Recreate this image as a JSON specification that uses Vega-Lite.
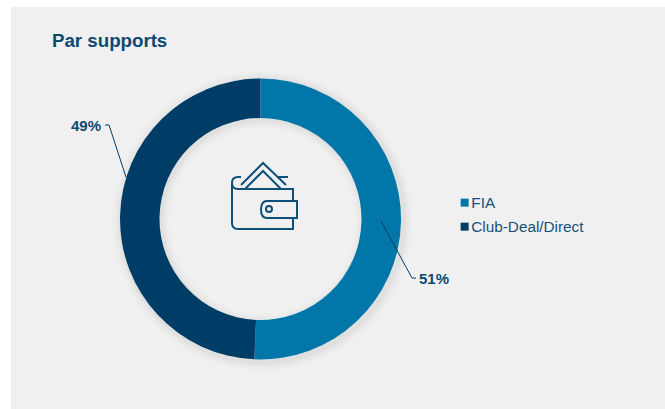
{"$schema":"https://vega.github.io/schema/vega-lite/v6.json","width":654,"height":402,"autosize":"none","padding":{"left":11,"top":7,"right":0,"bottom":0},"background":"#ffffff","config":{"view":{"fill":"#f0f0f0","stroke":null},"font":"Liberation Sans"},"title":{"text":"Par supports","anchor":"start","frame":"group","dx":41,"offset":-59,"baseline":"alphabetic","font":"Liberation Sans","fontSize":18.7,"fontWeight":"bold","color":"#0c4a72"},"data":{"values":[{"support":"FIA","share":50.7,"order":1,"label":"51%"},{"support":"Club-Deal/Direct","share":49.3,"order":2,"label":"49%"}]},"layer":[{"mark":{"type":"arc","radius":150,"radius2":93,"color":"#000000","opacity":0.012},"encoding":{"theta":{"field":"share","type":"quantitative","stack":true},"order":{"field":"order"},"x":{"value":251.5},"y":{"value":214}}},{"mark":{"type":"arc","radius":147,"radius2":96,"color":"#000000","opacity":0.02},"encoding":{"theta":{"field":"share","type":"quantitative","stack":true},"order":{"field":"order"},"x":{"value":251.5},"y":{"value":214}}},{"mark":{"type":"arc","radius":144,"radius2":99,"color":"#000000","opacity":0.03},"encoding":{"theta":{"field":"share","type":"quantitative","stack":true},"order":{"field":"order"},"x":{"value":251.5},"y":{"value":214}}},{"mark":{"type":"arc","radius":140.5,"radius2":101},"encoding":{"theta":{"field":"share","type":"quantitative","stack":true},"order":{"field":"order"},"x":{"value":249.5},"y":{"value":212},"color":{"field":"support","type":"nominal","scale":{"domain":["FIA","Club-Deal/Direct"],"range":["#0077a8","#003d66"]},"legend":{"title":null,"orient":"none","legendX":446,"legendY":188,"symbolType":"square","symbolSize":64,"symbolStrokeWidth":0,"labelFont":"Liberation Sans","labelFontSize":15.3,"labelColor":"#17507a","labelOffset":-1,"rowPadding":8,"labelLimit":200}}}},{"transform":[{"filter":"datum.support==='FIA'"}],"mark":{"type":"point","filled":false,"stroke":"#003d66","strokeWidth":1,"opacity":1,"size":4,"shape":"M-17,-28 L14,29 L18,29"},"encoding":{"x":{"value":387},"y":{"value":242}}},{"transform":[{"filter":"datum.support!=='FIA'"}],"mark":{"type":"point","filled":false,"stroke":"#003d66","strokeWidth":1,"opacity":1,"size":4,"shape":"M-11,-26 L-7,-26 L10,26"},"encoding":{"x":{"value":105},"y":{"value":144}}},{"transform":[{"filter":"datum.support==='FIA'"}],"mark":{"type":"text","font":"Liberation Sans","fontSize":15,"fontWeight":"bold","color":"#0c4a72","align":"left","baseline":"middle"},"encoding":{"text":{"field":"label"},"x":{"value":408},"y":{"value":272}}},{"transform":[{"filter":"datum.support!=='FIA'"}],"mark":{"type":"text","font":"Liberation Sans","fontSize":15,"fontWeight":"bold","color":"#0c4a72","align":"right","baseline":"middle"},"encoding":{"text":{"field":"label"},"x":{"value":90},"y":{"value":119}}},{"transform":[{"filter":"datum.support==='FIA'"}],"mark":{"type":"point","filled":false,"stroke":"#0f4f7c","strokeWidth":2,"opacity":1,"size":4,"shape":"M-32,-12 L-32,27 Q-32,33 -26,33 L29,33 L29,22 M29,5 L29,-7 L-26,-7 Q-32,-7 -32,-13 Q-32,-19 -26,-19 L-23,-19 M13,-19 L24,-19 M-23,-11 L-1,-33 L22,-11 M-19,-7 L-1,-25 L17,-7 M33,5 L3,5 Q-3,5 -3,13.5 Q-3,22 3,22 L33,22 Z M8,13 a3,3 0 1,0 -6,0 a3,3 0 1,0 6,0"},"encoding":{"x":{"value":253},"y":{"value":189}}}]}
